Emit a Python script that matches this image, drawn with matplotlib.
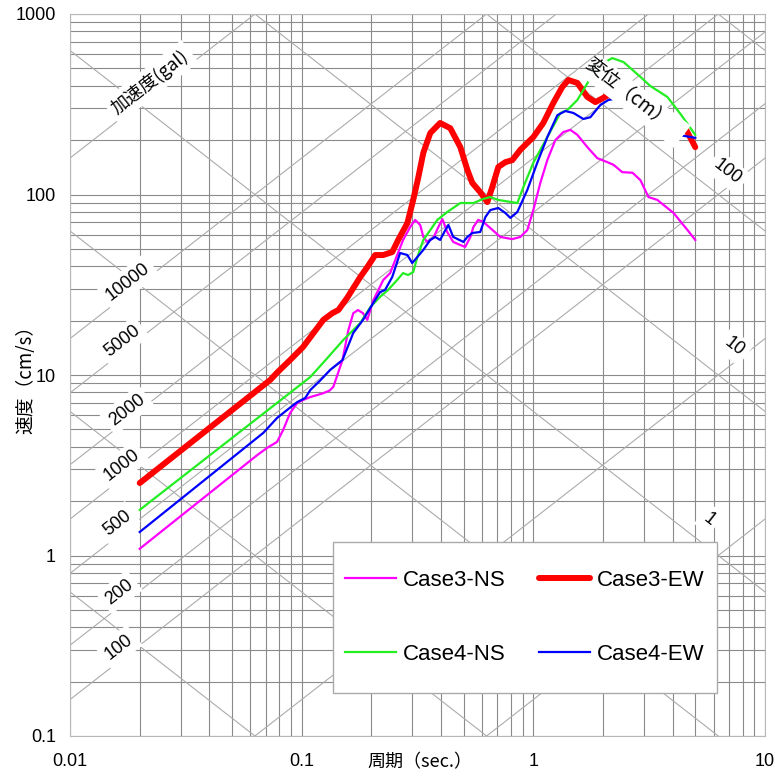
import numpy as np
import matplotlib
matplotlib.use("Agg")
from matplotlib import pyplot as plt
from matplotlib.patches import Rectangle
from matplotlib.ticker import NullFormatter
import matplotlib.transforms as mtransforms

plt.rcParams['font.family'] = ['Liberation Sans', 'Noto Sans CJK JP', 'DejaVu Sans']
CJK = ['Noto Sans CJK JP', 'DejaVu Sans']

# --- spectra: period (sec.) and pseudo velocity (cm/s) ---
c3ns_T = [0.02, 0.0643, 0.071, 0.0783, 0.0832, 0.0891, 0.0957, 0.1014, 0.109, 0.123, 0.132, 0.137,
          0.150, 0.159, 0.167, 0.175, 0.184, 0.192, 0.204, 0.225, 0.241, 0.274, 0.294, 0.309, 0.325,
          0.335, 0.348, 0.370, 0.389, 0.405, 0.425, 0.451, 0.484, 0.508, 0.535, 0.551, 0.578, 0.608,
          0.652, 0.72, 0.811, 0.879, 0.942, 1.0, 1.072, 1.149, 1.244, 1.348, 1.445, 1.549, 1.711,
          1.888, 2.089, 2.22, 2.42, 2.68, 2.90, 3.14, 3.43, 4.03, 4.63, 5.0]
c3ns_SV = [1.09, 3.6, 3.95, 4.26, 4.96, 6.15, 7.0, 7.27, 7.55, 7.9, 8.2, 8.6,
           12.1, 17.7, 22.0, 22.9, 22.0, 20.2, 26.0, 33.6, 36.7, 56.0, 66.0, 72.3, 67.7,
           58.2, 54.6, 57.4, 66.0, 73.0, 62.0, 54.6, 52.5, 51.2, 58.2, 66.0, 72.3, 70.5,
           65.2, 58.2, 56.6, 58.2, 63.5, 82.0, 116, 155, 200, 222, 228, 214, 183,
           159, 151, 146, 133, 132, 120, 96.8, 93.3, 79.0, 63.5, 56.0]

c3ew_T = [0.02, 0.0731, 0.0783, 0.0891, 0.1014, 0.124, 0.1356, 0.144, 0.157, 0.179, 0.192, 0.2077,
          0.225, 0.246, 0.261, 0.286, 0.303, 0.319, 0.335, 0.359, 0.396, 0.438, 0.484, 0.519, 0.545,
          0.590, 0.633, 0.665, 0.706, 0.757, 0.811, 0.879, 1.0, 1.104, 1.219, 1.333, 1.416, 1.549,
          1.711, 1.853, 2.005, 2.108, 2.5, 3.2, 4.0, 4.53, 5.0]
c3ew_SV = [2.52, 9.38, 10.3, 12.1, 14.3, 20.2, 22.0, 22.9, 26.7, 34.9, 39.6, 46.2,
           46.2, 48.0, 56.0, 69.5, 93.3, 125, 170, 219, 249, 233, 183, 137, 116,
           103, 90.8, 110, 142, 151, 155, 177, 208, 249, 321, 394, 431, 415,
           347, 325, 343, 356, 330, 290, 255, 233, 183]

c4ns_T = [0.02, 0.109, 0.129, 0.151, 0.179, 0.198, 0.218, 0.236, 0.254, 0.274, 0.288, 0.303, 0.316,
          0.335, 0.359, 0.385, 0.425, 0.484, 0.551, 0.608, 0.652, 0.706, 0.853, 0.906, 1.0, 1.149,
          1.309, 1.403, 1.549, 1.644, 1.763, 1.945, 2.19, 2.45, 2.90, 3.20, 3.79, 4.32, 5.0]
c4ns_SV = [1.79, 9.75, 12.4, 15.6, 19.4, 23.8, 27.1, 29.6, 32.8, 36.7, 35.8, 37.2, 45.1,
           56.0, 63.5, 72.3, 80.0, 89.7, 89.7, 94.5, 96.8, 93.3, 89.7, 110, 150, 208,
           283, 294, 334, 379, 441, 521, 570, 542, 448, 399, 347, 279, 214]

c4ew_T = [0.02, 0.0683, 0.0783, 0.0865, 0.0957, 0.1036, 0.109, 0.120, 0.133, 0.150, 0.167, 0.184,
          0.204, 0.218, 0.229, 0.246, 0.266, 0.286, 0.300, 0.316, 0.335, 0.359, 0.377, 0.396, 0.417,
          0.430, 0.451, 0.499, 0.519, 0.545, 0.590, 0.621, 0.652, 0.706, 0.757, 0.796, 0.853, 0.942,
          1.04, 1.149, 1.27, 1.374, 1.489, 1.644, 1.763, 1.945, 2.108, 2.22, 2.7, 3.4, 4.23, 5.0]
c4ew_SV = [1.35, 4.78, 5.78, 6.4, 7.08, 7.46, 8.26, 9.3, 10.7, 12.1, 17.1, 20.2,
           25.1, 28.8, 29.6, 34.9, 47.4, 46.2, 41.7, 45.1, 49.3, 56.0, 58.2, 56.0, 63.5,
           67.7, 58.2, 54.6, 58.2, 61.2, 62.0, 75.0, 82.0, 84.2, 79.0, 74.2, 80.0, 106,
           150, 208, 275, 290, 283, 262, 268, 313, 334, 338, 290, 250, 214, 206]

# tripartite grid
accel_lines = [1, 10, 100, 200, 500, 1000, 2000, 5000, 10000, 100000]   # gal
disp_lines = [0.001, 0.01, 0.1, 1, 10, 100, 1000]                      # cm

accel_labels = ["加速度(gal)", "10000", "5000", "2000", "1000", "500", "200", "100"]
accel_lab_T = [0.0222, 0.0178, 0.0168, 0.0176, 0.0168, 0.0160, 0.0163, 0.0163]
accel_lab_SV = [420, 32.7, 15.4, 6.4, 3.17, 1.51, 0.628, 0.311]

disp_labels = ["100", "10", "1"]
disp_lab_T = [6.89, 7.38, 5.75]
disp_lab_SV = [133, 14.3, 1.59]

xticks = [0.01, 0.1, 1, 10]
xticklabels = ["0.01", "0.1", "1", "10"]
yticks = [0.1, 1, 10, 100, 1000]
yticklabels = ["0.1", "1", "10", "100", "1000"]

fig = plt.figure(figsize=(7.75, 7.76), dpi=100)
ax = fig.add_axes([70 / 775, 40 / 776, 695 / 775, 722 / 776])
ax.set_xscale('log')
ax.set_yscale('log')
ax.set_xlim(0.01, 10)
ax.set_ylim(0.1, 1000)
ax.set_axisbelow(True)
ax.grid(True, which='both', color='#8a8a8a', lw=0.8)
for s in ax.spines.values():
    s.set_color('#b8b8b8')

ax.set_xticks(xticks)
ax.set_xticklabels(xticklabels)
ax.set_yticks(yticks)
ax.set_yticklabels(yticklabels)
ax.xaxis.set_minor_formatter(NullFormatter())
ax.yaxis.set_minor_formatter(NullFormatter())
ax.tick_params(which='both', length=0, labelsize=13)
ax.tick_params(axis='x', pad=12)
ax.tick_params(axis='y', pad=10)

T_line = np.array([0.01, 10.0])
for a in accel_lines:
    ax.plot(T_line, a * T_line / (2 * np.pi), color='#ababab', lw=0.8, zorder=1)
for d in disp_lines:
    ax.plot(T_line, 2 * np.pi * d / T_line, color='#ababab', lw=0.8, zorder=1)

l1, = ax.plot(c3ns_T, c3ns_SV, color='#ff00ff', lw=1.6, zorder=3, label='Case3-NS')
l2, = ax.plot(c3ew_T, c3ew_SV, color='#ff0000', lw=4.3, zorder=3, label='Case3-EW',
              solid_capstyle='round', solid_joinstyle='round')
l3, = ax.plot(c4ns_T, c4ns_SV, color='#22ee22', lw=1.6, zorder=3, label='Case4-NS')
l4, = ax.plot(c4ew_T, c4ew_SV, color='#0000ff', lw=1.6, zorder=3, label='Case4-EW')

# angle of the diagonal lines on screen
ang = np.degrees(np.arctan2(722 / 4, 695 / 3))
box = dict(boxstyle='square,pad=0.25', fc='white', ec='none')

for i, txt in enumerate(accel_labels):
    fam = CJK if i == 0 else None
    ax.text(accel_lab_T[i], accel_lab_SV[i], txt, rotation=ang, rotation_mode='anchor',
            ha='center', va='center', fontsize=13, bbox=box, zorder=6, family=fam)
for i, txt in enumerate(disp_labels):
    ax.text(disp_lab_T[i], disp_lab_SV[i], txt, rotation=-ang, rotation_mode='anchor',
            ha='center', va='center', fontsize=13, bbox=box, zorder=6)

# displacement title sits on a wider white box
cx, cy = ax.transData.transform((2.55, 365))
tr = mtransforms.Affine2D().rotate_deg(-ang).translate(cx, cy)
ax.add_patch(Rectangle((-40, -15), 110, 28, transform=tr, fc='white', ec='none', zorder=5.5))
ax.text(2.55, 365, "変位（cm）", rotation=-ang, rotation_mode='anchor', ha='center', va='center',
        fontsize=13.5, zorder=6, family=CJK)

ax.text(0.503, -0.036, "周期（sec.）", transform=ax.transAxes, ha='center', va='center',
        fontsize=13, family=CJK)
ax.text(-0.063, 0.5, "速度（cm/s）", transform=ax.transAxes, ha='center', va='center',
        rotation=90, fontsize=13.5, family=CJK)

# legend
ax.add_patch(Rectangle((0.378, 0.0596), 0.553, 0.209, transform=ax.transAxes, fc='white',
                       ec='#aaaaaa', lw=1, zorder=7))
leg = ax.legend(handles=[l1, l3, l2, l4], ncol=2, frameon=False, loc='center',
                bbox_to_anchor=(0.6547, 0.164), fontsize=16, handlelength=2.3,
                handletextpad=0.3, columnspacing=1.5, labelspacing=2.4)
leg.set_zorder(8)

plt.savefig("out.png", dpi=100)
